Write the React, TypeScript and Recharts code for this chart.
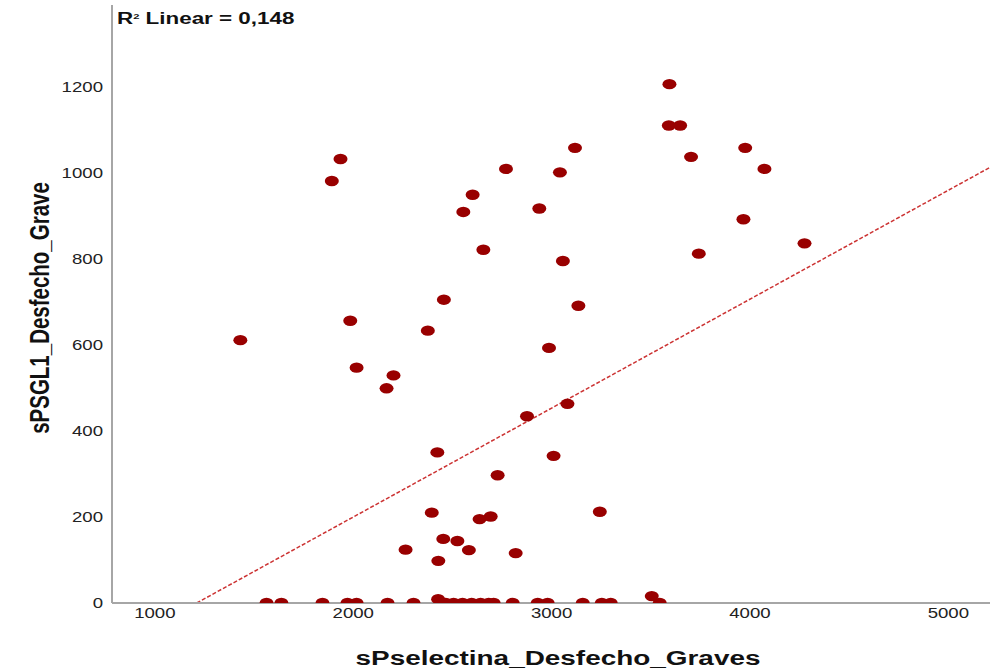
import { Label, ReferenceLine, Scatter, ScatterChart, XAxis, YAxis } from "recharts";

// sPselectina (x) and sPSGL1 (y), one entry per patient
const sPselectina = [
  1431, 1936, 1892, 1985, 2017, 2203, 2168, 2376, 2457, 2555, 2602, 2656, 2770, 2938, 3042,
  3118, 3057, 3135, 3080, 2987, 2876, 2728, 2424, 2396, 3010, 3243, 2693, 2637, 2454, 2525,
  2583, 2264, 2429, 2819, 3594, 3591, 3648, 3703, 3976, 4073, 3967, 3742, 4275, 3505, 2428,
  1563, 1638, 1845, 1971, 2017, 2173, 2304, 2466, 2506, 2551, 2597, 2642, 2683, 2708, 2804,
  2930, 2980, 3157, 3253, 3298, 3545,
];

const sPSGL1 = [
  611, 1032, 981, 656, 547, 529, 499, 633, 705, 909, 949, 821, 1009, 917, 1001,
  1058, 795, 691, 463, 593, 434, 297, 350, 210, 342, 212, 201, 195, 149, 144,
  123, 124, 98, 116, 1206, 1110, 1110, 1037, 1058, 1009, 892, 812, 836, 16, 9,
  0, 0, 0, 0, 0, 0, 0, 0, 0, 0, 0, 0, 0, 0, 0,
  0, 0, 0, 0, 0, 0,
];

const xTicks = [1000, 2000, 3000, 4000, 5000];
const yTicks = [0, 200, 400, 600, 800, 1000, 1200];

// linear fit shown as dashed line
const FIT_INTERCEPT = -306.6;
const FIT_SLOPE = 0.2532;
const R2 = "0,148";

const X_MIN = 784;
const X_MAX = 5210;
const Y_MAX = 1390;

const points = sPselectina.map((x, i) => ({ x, y: sPSGL1[i] }));

const DOT = "#990000";
const AXIS = "#a6a6a6";
const FONT = "'Liberation Sans', Arial, sans-serif";
// glyphs are drawn wide, like the SPSS output
const STRETCH = 1.33;

function Dot(props: any) {
  const { cx, cy } = props;
  return <ellipse cx={cx} cy={cy} rx={7} ry={5.2} fill={DOT} />;
}

function XTick(props: any) {
  const { x, y, payload } = props;
  return (
    <text
      transform={`translate(${x} ${y + 11}) scale(${STRETCH} 1)`}
      textAnchor="middle"
      fontFamily={FONT}
      fontSize={14}
      fill="#222"
    >
      {payload.value}
    </text>
  );
}

function YTick(props: any) {
  const { x, y, payload } = props;
  return (
    <text
      transform={`translate(${x} ${y + 5}) scale(${STRETCH} 1)`}
      textAnchor="end"
      fontFamily={FONT}
      fontSize={14}
      fill="#222"
    >
      {payload.value}
    </text>
  );
}

export default function App() {
  const fitStart = -FIT_INTERCEPT / FIT_SLOPE;
  const fitEnd = FIT_INTERCEPT + FIT_SLOPE * X_MAX;

  return (
    <div style={{ position: "absolute", left: 0, top: 0, width: 990, height: 671, background: "#fff" }}>
      <ScatterChart width={990} height={671} margin={{ top: 5, right: 0, bottom: 38, left: 52 }}>
        <XAxis
          type="number"
          dataKey="x"
          domain={[X_MIN, X_MAX]}
          ticks={xTicks}
          allowDataOverflow
          height={30}
          tickSize={0}
          tickMargin={4}
          axisLine={{ stroke: AXIS, strokeWidth: 2 }}
          tick={<XTick />}
        >
          <Label
            content={({ viewBox }: any) => (
              <text
                transform={`translate(${viewBox.x + viewBox.width / 2 + 7} ${viewBox.y + 62}) scale(${STRETCH} 1)`}
                textAnchor="middle"
                fontFamily={FONT}
                fontSize={21}
                fontWeight="bold"
                fill="#111"
              >
                sPselectina_Desfecho_Graves
              </text>
            )}
          />
        </XAxis>
        <YAxis
          type="number"
          dataKey="y"
          domain={[0, Y_MAX]}
          ticks={yTicks}
          allowDataOverflow
          width={60}
          tickSize={0}
          tickMargin={9}
          axisLine={{ stroke: AXIS, strokeWidth: 2 }}
          tick={<YTick />}
        >
          <Label
            content={({ viewBox }: any) => {
              const cx = 39;
              const cy = viewBox.y + viewBox.height / 2 + 4;
              return (
                <g>
                  <text
                    transform={`translate(${cx} ${cy}) scale(${STRETCH} 1) rotate(-90)`}
                    textAnchor="middle"
                    dominantBaseline="central"
                    fontFamily={FONT}
                    fontSize={20.5}
                    fontWeight="bold"
                    fill="#111"
                  >
                    sPSGL1_Desfecho_Grave
                  </text>
                  <text
                    transform={`translate(${viewBox.x + viewBox.width + 5} ${viewBox.y + 19}) scale(1.4 1)`}
                    fontFamily={FONT}
                    fontSize={16}
                    fontWeight="bold"
                    fill="#111"
                  >
                    R
                    <tspan fontSize={8} dy={-5}>2</tspan>
                    <tspan dy={5}> Linear = {R2}</tspan>
                  </text>
                </g>
              );
            }}
          />
        </YAxis>
        <ReferenceLine
          segment={[
            { x: fitStart, y: 0 },
            { x: X_MAX, y: fitEnd },
          ]}
          stroke="#cc3333"
          strokeWidth={1.5}
          strokeDasharray="4 2"
        />
        <Scatter data={points} shape={<Dot />} isAnimationActive={false} />
      </ScatterChart>
    </div>
  );
}
